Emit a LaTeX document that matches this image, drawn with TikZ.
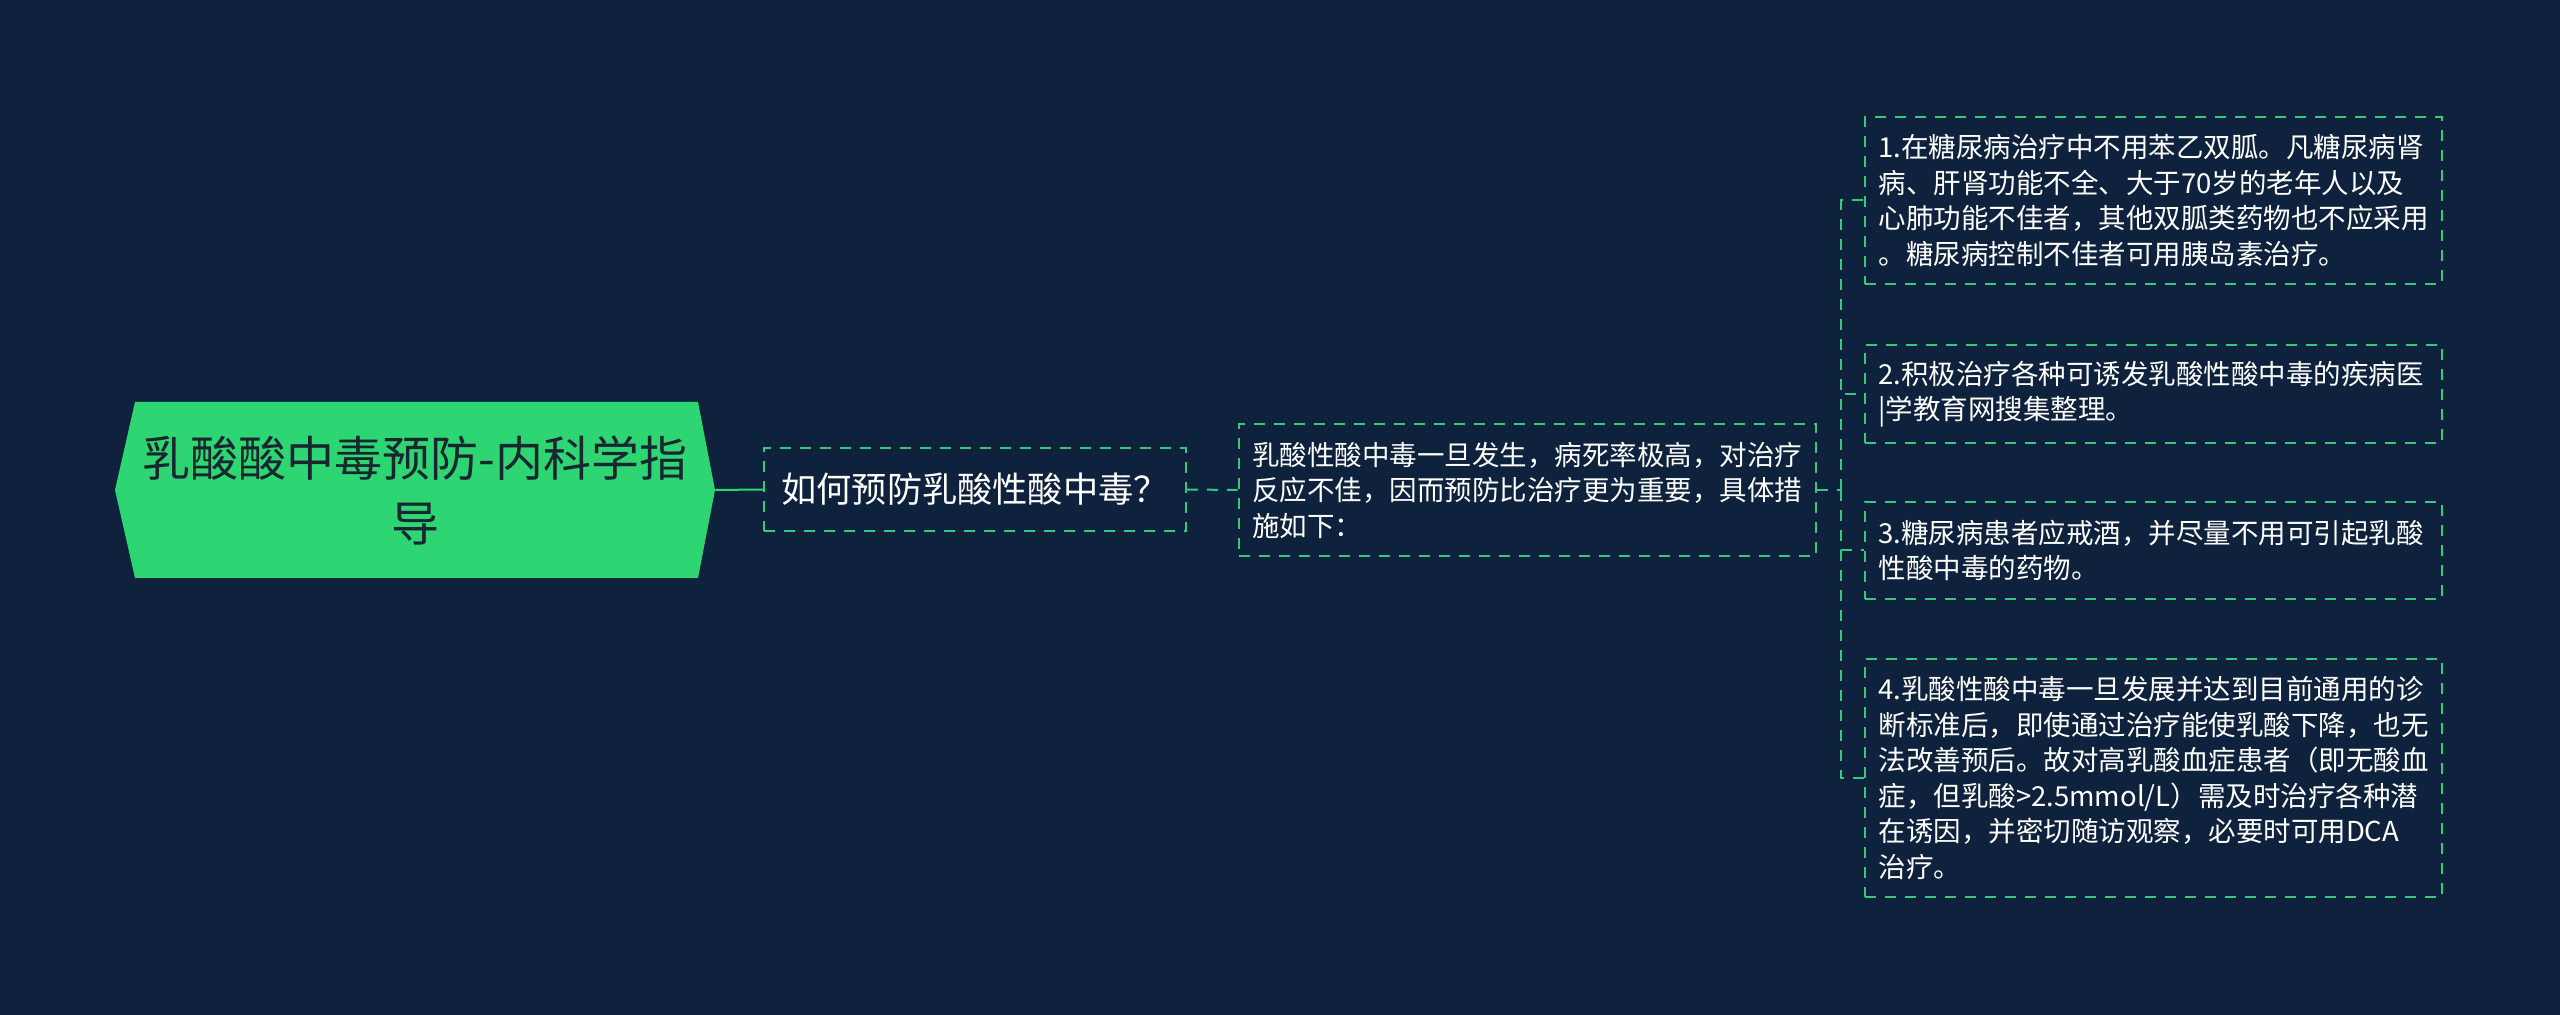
\documentclass[tikz,border=0pt]{standalone}
\usepackage{fontspec}
\setmainfont{Noto Sans CJK SC}
\usepackage{tikz}
\usetikzlibrary{calc}
\definecolor{bgcolor}{HTML}{0E223D}
\definecolor{rootgreen}{HTML}{2ED573}
\definecolor{linegreen}{HTML}{35C97A}
\definecolor{roottext}{HTML}{18262F}
\tikzset{
	rootstyle/.style={rectangle,minimum width=300pt,minimum height=88pt,inner sep=0pt,align=center,text=roottext,font=\fontsize{24pt}{32.5pt}\selectfont},
	topicstyle/.style={rectangle,draw=linegreen,line width=1pt,dash pattern=on 5.5pt off 4.5pt,minimum width=211pt,minimum height=41.5pt,inner sep=0pt,align=center,text=white,font=\fontsize{17.6pt}{21pt}\selectfont},
	boxstyle/.style={rectangle,draw=linegreen,line width=1pt,dash pattern=on 5.5pt off 4.5pt,text width=275pt,inner xsep=6.75pt,inner ysep=2pt,align=left,text=white,font=\fontsize{13.75pt}{17.75pt}\selectfont},
	linkstyle/.style={draw=linegreen,line width=1pt,dash pattern=on 5.5pt off 4.5pt},
	rootlinkstyle/.style={draw=rootgreen,line width=1pt}
}
\begin{document}
\begin{tikzpicture}[x=0.5pt,y=-0.5pt]
	\fill[bgcolor] (0,0) rectangle (2560,1015);
	\useasboundingbox (0,0) rectangle (2560,1015);
	\fill[rootgreen] (135,402) -- (698,402) -- (715,490) -- (698,578) -- (135,578) -- (115,490) -- cycle;
	\node[rootstyle] (root) at (415,490) {乳酸酸中毒预防-内科学指\\导};
	\node[topicstyle] (q) at (975,489.5) {如何预防乳酸性酸中毒？};
	\node[boxstyle,minimum height=66pt] (d) at (1527,490) {乳酸性酸中毒一旦发生，病死率极高，对治疗\\反应不佳，因而预防比治疗更为重要，具体措\\施如下：};
	\node[boxstyle,minimum height=83.5pt] (m1) at (2153.5,200.5) {1.在糖尿病治疗中不用苯乙双胍。凡糖尿病肾\\病、肝肾功能不全、大于70岁的老年人以及\\心肺功能不佳者，其他双胍类药物也不应采用\\。糖尿病控制不佳者可用胰岛素治疗。};
	\node[boxstyle,minimum height=49pt] (m2) at (2153.5,394) {2.积极治疗各种可诱发乳酸性酸中毒的疾病医\\|学教育网搜集整理。};
	\node[boxstyle,minimum height=48.5pt] (m3) at (2153.5,550.5) {3.糖尿病患者应戒酒，并尽量不用可引起乳酸\\性酸中毒的药物。};
	\node[boxstyle,minimum height=119pt] (m4) at (2153.5,778) {4.乳酸性酸中毒一旦发展并达到目前通用的诊\\断标准后，即使通过治疗能使乳酸下降，也无\\法改善预后。故对高乳酸血症患者（即无酸血\\症，但乳酸>2.5mmol/L）需及时治疗各种潜\\在诱因，并密切随访观察，必要时可用DCA\\治疗。};
	\coordinate (bus) at (1841,490);
	\draw[rootlinkstyle] (root.east)--(q.west);
	\draw[linkstyle] (q.east)--(d.west);
	\draw[linkstyle] (d.east)--(bus);
	\draw[linkstyle] (bus) |- (m1.west);
	\draw[linkstyle] (bus) |- (m2.west);
	\draw[linkstyle] (bus) |- (m3.west);
	\draw[linkstyle] (bus) |- (m4.west);
\end{tikzpicture}
\end{document}
